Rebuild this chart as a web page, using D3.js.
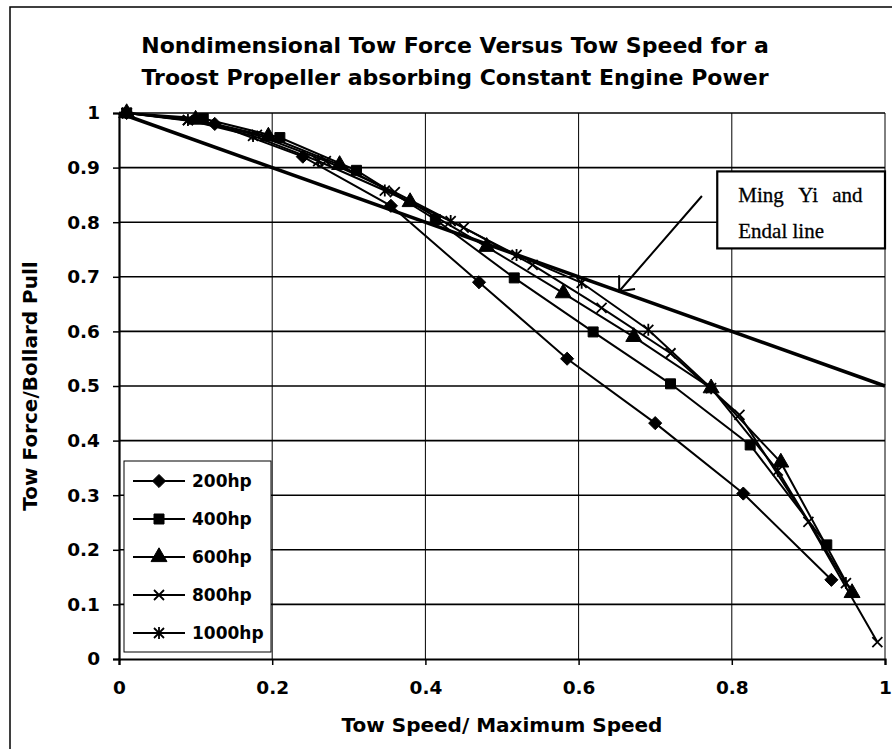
<!DOCTYPE html>
<html>
<head>
<meta charset="utf-8">
<script src="https://cdn.jsdelivr.net/npm/d3@7"></script>
<style>
  html, body { margin: 0; padding: 0; background: #fff; }
  svg { display: block; }
</style>
</head>
<body>
<script>
// Chart values.
const seriesNames = ["200hp", "400hp", "600hp", "800hp", "1000hp"];

const speed200 = [0.01, 0.125, 0.24, 0.355, 0.47, 0.585, 0.70, 0.815, 0.93];
const force200 = [1.00, 0.98, 0.92, 0.83, 0.69, 0.55, 0.432, 0.303, 0.145];

const speed400 = [0.01, 0.11, 0.21, 0.31, 0.413, 0.516, 0.619, 0.72, 0.824, 0.924];
const force400 = [1.00, 0.99, 0.955, 0.895, 0.805, 0.698, 0.599, 0.504, 0.392, 0.209];

const speed600 = [0.01, 0.10, 0.195, 0.288, 0.38, 0.48, 0.58, 0.672, 0.773, 0.864, 0.957];
const force600 = [1.00, 0.988, 0.957, 0.905, 0.837, 0.755, 0.67, 0.59, 0.496, 0.36, 0.121];

const speed800 = [0.01, 0.09, 0.18, 0.27, 0.36, 0.45, 0.54, 0.63, 0.72, 0.81, 0.90, 0.99];
const force800 = [1.00, 0.987, 0.96, 0.912, 0.855, 0.79, 0.722, 0.643, 0.56, 0.447, 0.251, 0.031];

const speed1000 = [0.01, 0.09, 0.175, 0.26, 0.347, 0.433, 0.519, 0.604, 0.691, 0.773, 0.86, 0.949];
const force1000 = [1.00, 0.987, 0.958, 0.912, 0.858, 0.802, 0.74, 0.689, 0.603, 0.496, 0.345, 0.139];

// Ming Yi and Endal line
const mingYiSpeed = [0, 1];
const mingYiForce = [1, 0.5];

const xTicks = [0, 0.2, 0.4, 0.6, 0.8, 1];
const yTicks = [0, 0.1, 0.2, 0.3, 0.4, 0.5, 0.6, 0.7, 0.8, 0.9, 1];

const titleLines = [
  "Nondimensional Tow Force Versus Tow Speed for a",
  "Troost Propeller absorbing Constant Engine Power"
];

// dimensions
const width = 892;
const height = 749;
const marginLeft = 119;
const marginRight = 7;
const marginTop = 113;
const marginBottom = 90;

const font = "'DejaVu Sans', sans-serif";

const x = d3.scaleLinear().domain([0, 1]).range([marginLeft, width - marginRight]);
const y = d3.scaleLinear().domain([0, 1]).range([height - marginBottom, marginTop]);

const svg = d3.select("body").append("svg")
  .attr("width", width)
  .attr("height", height)
  .attr("viewBox", [0, 0, width, height]);

// outer chart frame (right/bottom edges fall off the scan)
svg.append("rect")
  .attr("x", 10).attr("y", 7)
  .attr("width", 900).attr("height", 760)
  .attr("fill", "white")
  .attr("stroke", "black")
  .attr("stroke-width", 1.5);

// title
svg.append("g")
  .attr("font-family", font)
  .attr("font-weight", "bold")
  .attr("font-size", 22)
  .attr("text-anchor", "middle")
  .selectAll("text")
  .data(titleLines)
  .join("text")
  .attr("x", 455)
  .attr("y", (d, i) => 53 + i * 32)
  .text(d => d);

// grid lines
svg.append("g")
  .attr("stroke", "black")
  .attr("stroke-width", 1.6)
  .selectAll("line")
  .data(yTicks.slice(1))
  .join("line")
  .attr("x1", x(0)).attr("x2", x(1))
  .attr("y1", d => y(d)).attr("y2", d => y(d));

svg.append("g")
  .attr("stroke", "black")
  .attr("stroke-width", 1)
  .selectAll("line")
  .data(xTicks.slice(1))
  .join("line")
  .attr("x1", d => x(d)).attr("x2", d => x(d))
  .attr("y1", y(0)).attr("y2", y(1));

// axes
const xAxis = svg.append("g")
  .attr("transform", `translate(0,${y(0)})`)
  .call(d3.axisBottom(x).tickValues(xTicks).tickFormat(d3.format("~g")).tickSize(6).tickPadding(16));
const yAxis = svg.append("g")
  .attr("transform", `translate(${x(0)},0)`)
  .call(d3.axisLeft(y).tickValues(yTicks).tickFormat(d3.format("~g")).tickSize(6).tickPadding(13));

[xAxis, yAxis].forEach(g => {
  g.select(".domain").attr("stroke-width", 2.2);
  g.selectAll(".tick line").attr("stroke-width", 1.5);
  g.selectAll(".tick text")
    .attr("font-family", font)
    .attr("font-weight", "bold")
    .attr("font-size", 18.5)
    .attr("fill", "black");
});

// axis titles
svg.append("text")
  .attr("x", (x(0) + x(1)) / 2)
  .attr("y", 732)
  .attr("text-anchor", "middle")
  .attr("font-family", font)
  .attr("font-weight", "bold")
  .attr("font-size", 20)
  .text("Tow Speed/ Maximum Speed");

svg.append("text")
  .attr("transform", `translate(37,${(y(0) + y(1)) / 2}) rotate(-90)`)
  .attr("text-anchor", "middle")
  .attr("font-family", font)
  .attr("font-weight", "bold")
  .attr("font-size", 20)
  .text("Tow Force/Bollard Pull");

// marker shapes
const markerPath = {
  "200hp": d3.symbol(d3.symbolDiamond2 || d3.symbolDiamond, 110)(),
  "400hp": d3.symbol(d3.symbolSquare, 100)(),
  "600hp": d3.symbol(d3.symbolTriangle, 110)(),
  "800hp": "M-5,-5L5,5M-5,5L5,-5",
  "1000hp": "M-5,-5L5,5M-5,5L5,-5M0,-6L0,6"
};
const markerStroked = { "800hp": true, "1000hp": true };

const series = [
  { name: "200hp", xs: speed200, ys: force200 },
  { name: "400hp", xs: speed400, ys: force400 },
  { name: "600hp", xs: speed600, ys: force600 },
  { name: "800hp", xs: speed800, ys: force800 },
  { name: "1000hp", xs: speed1000, ys: force1000 }
].map(s => ({ name: s.name, points: s.xs.map((v, i) => [v, s.ys[i]]) }));

const line = d3.line().x(d => x(d[0])).y(d => y(d[1]));

// Ming Yi and Endal line
svg.append("path")
  .attr("d", line(mingYiSpeed.map((v, i) => [v, mingYiForce[i]])))
  .attr("fill", "none")
  .attr("stroke", "black")
  .attr("stroke-width", 3.5);

const gSeries = svg.append("g");
series.forEach(s => {
  gSeries.append("path")
    .attr("d", line(s.points))
    .attr("fill", "none")
    .attr("stroke", "black")
    .attr("stroke-width", 2);
  gSeries.append("g")
    .selectAll("path")
    .data(s.points)
    .join("path")
    .attr("transform", d => `translate(${x(d[0])},${y(d[1])})`)
    .attr("d", markerPath[s.name])
    .attr("fill", markerStroked[s.name] ? "none" : "black")
    .attr("stroke", "black")
    .attr("stroke-width", markerStroked[s.name] ? 1.8 : 1);
});

// legend
const legend = svg.append("g");
legend.append("rect")
  .attr("x", 124).attr("y", 461)
  .attr("width", 147).attr("height", 191)
  .attr("fill", "white")
  .attr("stroke", "black")
  .attr("stroke-width", 1);
const entry = legend.selectAll("g.entry")
  .data(seriesNames)
  .join("g")
  .attr("class", "entry")
  .attr("transform", (d, i) => `translate(0,${481 + i * 38})`);
entry.append("line")
  .attr("x1", 133).attr("x2", 185)
  .attr("stroke", "black").attr("stroke-width", 2);
entry.append("path")
  .attr("transform", "translate(159,0)")
  .attr("d", d => markerPath[d])
  .attr("fill", d => markerStroked[d] ? "none" : "black")
  .attr("stroke", "black")
  .attr("stroke-width", d => markerStroked[d] ? 1.8 : 1);
entry.append("text")
  .attr("x", 192)
  .attr("dy", "0.36em")
  .attr("font-family", font)
  .attr("font-weight", "bold")
  .attr("font-size", 17)
  .text(d => d);

// annotation box and arrow
const boxX0 = x(0.781), boxX1 = x(1.0), boxY0 = y(0.893), boxY1 = y(0.752);
svg.append("rect")
  .attr("x", boxX0).attr("y", boxY0)
  .attr("width", boxX1 - boxX0).attr("height", boxY1 - boxY0)
  .attr("fill", "white")
  .attr("stroke", "black")
  .attr("stroke-width", 2.2);

const noteText = svg.append("g")
  .attr("font-family", "'Liberation Serif', 'Times New Roman', serif")
  .attr("font-size", 21)
  .attr("stroke", "black")
  .attr("stroke-width", 0.3);
[["Ming", 21], ["Yi", 81], ["and", 115]].forEach(([w, dx]) => {
  noteText.append("text").attr("x", boxX0 + dx).attr("y", boxY0 + 31).text(w);
});
noteText.append("text").attr("x", boxX0 + 21).attr("y", boxY0 + 67).text("Endal line");

const tipX = x(0.653), tipY = y(1 - 0.5 * 0.653);
const tailX = x(0.761), tailY = y(0.848);
const ang = Math.atan2(tailY - tipY, tailX - tipX);
const barb = 16, spread = 0.72;
svg.append("path")
  .attr("d", `M${tailX},${tailY}L${tipX},${tipY}` +
    `M${tipX + barb * Math.cos(ang - spread)},${tipY + barb * Math.sin(ang - spread)}L${tipX},${tipY}` +
    `L${tipX + barb * Math.cos(ang + spread)},${tipY + barb * Math.sin(ang + spread)}`)
  .attr("fill", "none")
  .attr("stroke", "black")
  .attr("stroke-width", 2);
</script>
</body>
</html>
